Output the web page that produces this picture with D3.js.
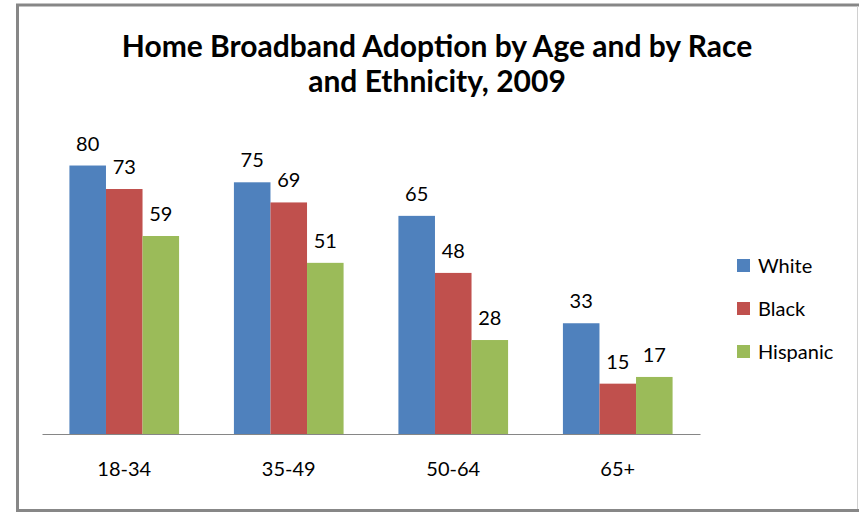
<!DOCTYPE html>
<html><head><meta charset="utf-8">
<script src="https://cdn.jsdelivr.net/npm/d3@7"></script>
<style>body{margin:0;background:#fff}svg{display:block}</style>
</head><body>
<svg id="c" width="859" height="512"></svg>
<script>
const categories = ["18-34", "35-49", "50-64", "65+"];
const seriesNames = ["White", "Black", "Hispanic"];
const white = [80, 75, 65, 33];
const black = [73, 69, 48, 15];
const hispanic = [59, 51, 28, 17];
const colors = ["#4F81BD", "#C0504D", "#9BBB59"];
const titleLines = ["Home Broadband Adoption by Age and by Race", "and Ethnicity, 2009"];

const series = [white, black, hispanic];
const svg = d3.select("#c");
const font = "Lato, 'Open Sans', sans-serif";

// frame
svg.append("rect").attr("x",0).attr("y",0).attr("width",859).attr("height",512).attr("fill","#fff");
svg.append("line").attr("x1",17.5).attr("x2",17.5).attr("y1",4).attr("y2",512).attr("stroke","#878787").attr("stroke-width",3);
svg.append("line").attr("x1",16).attr("x2",859).attr("y1",5).attr("y2",5).attr("stroke","#878787").attr("stroke-width",3);
svg.append("line").attr("x1",16).attr("x2",859).attr("y1",510.5).attr("y2",510.5).attr("stroke","#878787").attr("stroke-width",3);
svg.append("line").attr("x1",857.5).attr("x2",857.5).attr("y1",6).attr("y2",509).attr("stroke","#d0d0d0").attr("stroke-width",1);

// title
svg.append("g").selectAll("text").data(titleLines).join("text")
  .attr("x",437).attr("y",(d,i)=>57+i*35)
  .attr("text-anchor","middle").attr("font-family",font).attr("font-weight","bold")
  .attr("font-size",30).attr("fill","#000").text(d=>d);

const x0 = d3.scaleBand().domain(categories).range([42,700]).padding(0);
const x1 = d3.scaleBand().domain(seriesNames).range([0, x0.bandwidth()/1.5]);
const y = d3.scaleLinear().domain([0,90]).range([434, 434 - 90*3.356]);

const g = svg.append("g");
categories.forEach((c,ci)=>{
  const off = x0(c) + (x0.bandwidth() - x0.bandwidth()/1.5)/2;
  seriesNames.forEach((s,si)=>{
    const v = series[si][ci];
    g.append("rect").attr("x",off + x1(s)).attr("y",y(v))
      .attr("width",x1.bandwidth()).attr("height",y(0)-y(v)).attr("fill",colors[si]);
    g.append("text").attr("x",off + x1(s) + x1.bandwidth()/2).attr("y",y(v)-15)
      .attr("text-anchor","middle").attr("font-family",font).attr("font-size",20)
      .attr("fill","#000").text(v);
  });
});

// axis
const ax = svg.append("g").attr("transform","translate(0,434)")
  .call(d3.axisBottom(x0).tickSize(0).tickPadding(28));
ax.select(".domain").attr("stroke","#868686");
ax.selectAll("text").attr("font-family",font).attr("font-size",20).attr("fill","#000");

// legend
const lg = svg.append("g");
seriesNames.forEach((s,i)=>{
  const yy = 265.5 + i*43;
  lg.append("rect").attr("x",737).attr("y",yy-6.5).attr("width",13).attr("height",13).attr("fill",colors[i]);
  lg.append("text").attr("x",758).attr("y",yy+7).attr("font-family",font).attr("font-size",20).attr("fill","#000").text(s);
});
</script>
</body></html>
